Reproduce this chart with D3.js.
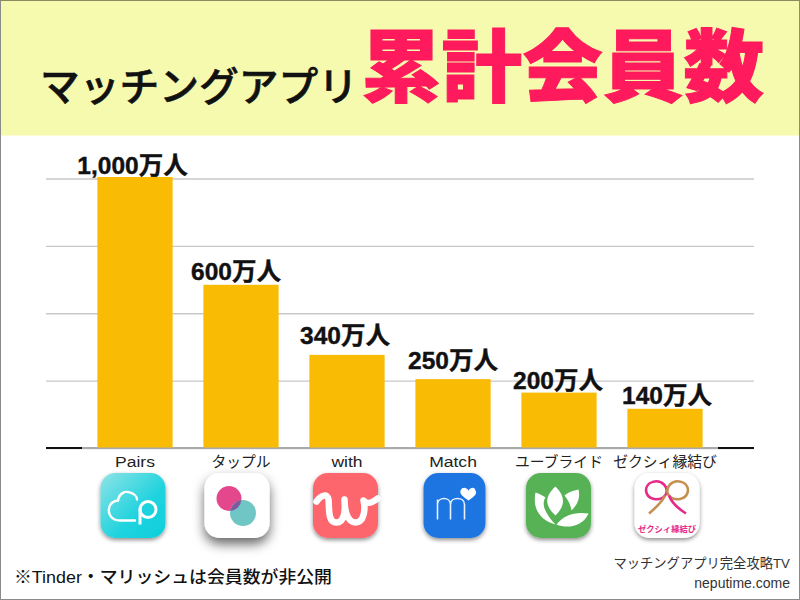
<!DOCTYPE html>
<html><head><meta charset="utf-8">
<script src="https://cdn.jsdelivr.net/npm/d3@7"></script>
<style>html,body{margin:0;padding:0;background:#fff}svg{display:block}text{font-family:"Liberation Sans","Noto Sans CJK JP",sans-serif}</style>
</head><body><svg id="c" width="800" height="600"></svg>
<script>
const categories=["Pairs","タップル","with","Match","ユーブライド","ゼクシィ縁結び"];
const values=[1000,600,340,250,200,140];
const valueLabels=["1,000万人","600万人","340万人","250万人","200万人","140万人"];
const gridTicks=[0,250,500,750,1000];
const titleLeft="マッチングアプリ";
const titleRight="累計会員数";
const note="※Tinder・マリッシュは会員数が非公開";
const credits=["マッチングアプリ完全攻略TV","neputime.come"];

const svg=d3.select("#c");
svg.append("rect").attr("width",800).attr("height",600).attr("fill","#fff");
svg.append("rect").attr("x",.5).attr("y",.5).attr("width",799).attr("height",599).attr("fill","none").attr("stroke","#8a8a8a");
svg.append("rect").attr("x",1).attr("y",1).attr("width",798).attr("height",134.5).attr("fill","#f5faaf");
svg.append("line").attr("x1",0).attr("x2",800).attr("y1",.5).attr("y2",.5).attr("stroke","#8a8a60");
svg.append("text").text(titleLeft).attr("x",40).attr("y",101).attr("font-size",40).attr("font-weight",500).attr("fill","#111").attr("stroke","#111").attr("stroke-width",.6).attr("textLength",318).attr("lengthAdjust","spacingAndGlyphs");
svg.append("text").text(titleRight).attr("x",361).attr("y",96).attr("font-size",79).attr("font-weight",900).attr("fill","#fe1a5c").attr("stroke","#fe1a5c").attr("stroke-width",1).attr("textLength",403).attr("lengthAdjust","spacingAndGlyphs");

const x=d3.scaleBand().domain(categories).range([82,718]).paddingInner(.29).paddingOuter(.145);
const y=d3.scaleLinear().domain([0,1000]).range([447.5,178]);
const grid=svg.append("g");
grid.selectAll("line").data(gridTicks).join("line").attr("x1",46).attr("x2",754).attr("y1",d=>y(d)+1).attr("y2",d=>y(d)+1).attr("stroke","#c8c8c8").attr("stroke-width",1.4);
svg.append("line").attr("x1",82).attr("x2",718).attr("y1",448).attr("y2",448).attr("stroke","#aaa").attr("stroke-width",2);
svg.append("g").selectAll("line").data([[46,82],[718,754]]).join("line").attr("x1",d=>d[0]).attr("x2",d=>d[1]).attr("y1",448).attr("y2",448).attr("stroke","#111").attr("stroke-width",2);
svg.append("g").selectAll("rect").data(values).join("rect").attr("x",(d,i)=>x(categories[i])).attr("width",x.bandwidth()).attr("y",d=>y(d)-1).attr("height",d=>y(0)-y(d)+1).attr("fill","#fabb04");
const labelDx=[-2.5,-5,-2,0,-1,2], labelDy=[0,-2,-8,-7,-1,-2];
svg.append("g").selectAll("text").data(valueLabels).join("text").text(d=>d).attr("x",(d,i)=>x(categories[i])+x.bandwidth()/2+labelDx[i]).attr("y",(d,i)=>y(values[i])-4+labelDy[i]).attr("text-anchor","middle").attr("font-size",24.5).attr("font-weight",700).attr("fill","#111").attr("stroke","#111").attr("stroke-width",.4);
svg.append("g").selectAll("text").data(categories).join("text").text(d=>d).attr("transform",d=>{
  const cx=x(d)+x.bandwidth()/2;
  return /^[A-Za-z]/.test(d)?`translate(${cx},467) scale(1.17,1)`:`translate(${cx},467)`;
}).attr("text-anchor","middle").attr("font-size",d=>/^[A-Za-z]/.test(d)?15:14.8).attr("fill","#222");

const defs=svg.append("defs");
const f=defs.append("filter").attr("id","sh").attr("x","-30%").attr("y","-30%").attr("width","160%").attr("height","170%");
f.append("feDropShadow").attr("dx",0).attr("dy",2).attr("stdDeviation",2).attr("flood-color","#000").attr("flood-opacity",.45);
const f2=defs.append("filter").attr("id","sh2").attr("x","-40%").attr("y","-40%").attr("width","180%").attr("height","190%");
f2.append("feDropShadow").attr("dx",0).attr("dy",6).attr("stdDeviation",6).attr("flood-color","#000").attr("flood-opacity",.6);
const lg=defs.append("linearGradient").attr("id","pg").attr("x1",0).attr("y1",0).attr("x2",1).attr("y2",1);
lg.append("stop").attr("offset",0).attr("stop-color","#8fe3e6");lg.append("stop").attr("offset",.6).attr("stop-color","#1fd3de");lg.append("stop").attr("offset",1).attr("stop-color","#0bd0dc");

const iconColors=["url(#pg)","#ffffff","#fe666e","#1f74e0","#57b255","#ffffff"];
const iconShift=[-2,-4,-1.5,1.5,-0.5,2];
const icons=svg.append("g").selectAll("g").data(categories).join("g").attr("transform",(d,i)=>`translate(${x(d)+x.bandwidth()/2+iconShift[i]},505.5)`);
icons.append("rect").attr("x",(d,i)=>i==3?-31:-32.5).attr("y",-32.5).attr("width",(d,i)=>i==3?62:65).attr("height",65).attr("rx",15).attr("fill",(d,i)=>iconColors[i]).attr("filter",(d,i)=>i==1?"url(#sh2)":"url(#sh)");
const g=i=>d3.select(icons.nodes()[i]);
// Pairs
g(0).append("path").attr("d","M2 15H-13C-22 15-25 8-24 3C-23-3-18-5-15-5C-14-12-8-15-3-13C1-12 4-9 4-6").attr("fill","none").attr("stroke","#fff").attr("stroke-width",2.4).attr("stroke-linecap","round");
g(0).append("circle").attr("cx",15).attr("cy",4).attr("r",8).attr("fill","none").attr("stroke","#fff").attr("stroke-width",3);
g(0).append("line").attr("x1",7).attr("x2",7).attr("y1",3).attr("y2",19).attr("stroke","#fff").attr("stroke-width",3);
// Tapple
g(1).append("circle").attr("cx",-8).attr("cy",-7).attr("r",12.5).attr("fill","#e5478d");
g(1).append("circle").attr("cx",6).attr("cy",7.5).attr("r",13).attr("fill","#68c3c2").attr("fill-opacity",.95);
g(1).append("path").attr("d","M4.5-5.4A12.5 12.5 0 0 1-6.5 5.4A13 13 0 0 1 4.5-5.4Z").attr("fill","#7d5a9e");
// with
g(2).append("path").attr("d","M-29-4C-24-11-18-12-17-6C-16 3-18 17-9 17C-1 17 0 5-1-6C-1 5 2 17 10 17C19 17 20 3 18-5C22-1 26-2 32-7").attr("fill","none").attr("stroke","#fff").attr("stroke-width",6.5).attr("stroke-linecap","round").attr("stroke-linejoin","round");
// Match
g(3).append("path").attr("d","M-17 14V-6M-17-1C-17-9-4-9-4-1V14M-4-1C-4-9 10-9 10-1V14").attr("fill","none").attr("stroke","#e8f1ff").attr("stroke-width",1.6);
g(3).append("path").attr("d","M14-5C8-9 5-12 6-15C8-19 12-18 14-15C16-18 20-19 21-15C23-12 20-9 14-5Z").attr("fill","#fff");
// Youbride
g(4).append("path").attr("d","M-3-19C-14-9-14 0-3 10C7 0 7-9-3-19Z").attr("fill","#fff");
g(4).append("path").attr("d","M-23-13C-26 2-20 14-3 19C-12 10-18-1-13-8C-16-10-19-12-23-13Z").attr("fill","#fff");
g(4).append("path").attr("d","M20-16C22-8 19-1 13 5C12-2 9-6 6-10C9-13 15-15 20-16Z").attr("fill","#fff");
g(4).append("path").attr("d","M-2 19C6 9 17 6 30 8C25 20 10 24-2 19Z").attr("fill","#fff");
// Zexy
g(5).append("path").attr("d","M-2-10C-7-4-20-5-21-15C-21-24-9-27-3-21C1-17 0-12-2-10").attr("fill","none").attr("stroke","#e62a8a").attr("stroke-width",2.6);
g(5).append("path").attr("d","M-2-10C-5-3-11 2-18 8").attr("fill","none").attr("stroke","#c39050").attr("stroke-width",2.6);
g(5).append("path").attr("d","M2-10C7-4 20-5 21-15C21-24 9-27 3-21C-1-17 0-12 2-10").attr("fill","none").attr("stroke","#c39050").attr("stroke-width",2.6);
g(5).append("path").attr("d","M2-10C5-2 11 3 19 8").attr("fill","none").attr("stroke","#e62a8a").attr("stroke-width",2.6);
g(5).append("text").text("ゼクシィ縁結び").attr("x",0).attr("y",26).attr("text-anchor","middle").attr("font-size",8.5).attr("font-weight",700).attr("fill","#e62a8a").attr("textLength",58).attr("lengthAdjust","spacingAndGlyphs");

svg.append("text").text(note).attr("x",14).attr("y",583).attr("font-size",16.8).attr("font-weight",500).attr("fill","#111").attr("textLength",318).attr("lengthAdjust","spacingAndGlyphs");
svg.append("g").selectAll("text").data(credits).join("text").text(d=>d).attr("x",790).attr("y",(d,i)=>568+i*20).attr("text-anchor","end").attr("font-size",(d,i)=>i?14:13.3).attr("fill","#333");
</script></body></html>
